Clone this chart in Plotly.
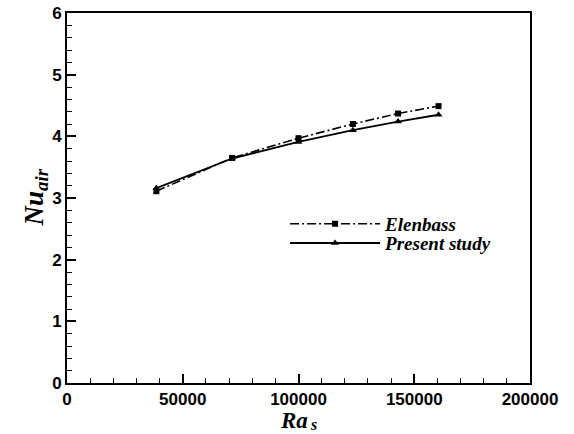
import plotly.graph_objects as go

ra_elenbass = [38600, 71300, 100000, 123500, 143000, 160500]
nu_elenbass = [3.11, 3.65, 3.97, 4.20, 4.37, 4.49]
ra_present = [38600, 71300, 100000, 123500, 143000, 160500]
nu_present = [3.16, 3.64, 3.91, 4.10, 4.24, 4.35]
x_ticks = [0, 50000, 100000, 150000, 200000]
y_ticks = [0, 1, 2, 3, 4, 5, 6]

serif = "Liberation Serif, Times New Roman"
fig = go.Figure()
fig.add_trace(go.Scatter(x=ra_elenbass, y=nu_elenbass, mode="lines+markers", name="<b><i>Elenbass</i></b>",
                         line=dict(color="black", width=1.6, dash="9px,3px,2px,3px"),
                         marker=dict(symbol="square", size=6, color="black"), legend="legend"))
fig.add_trace(go.Scatter(x=ra_present, y=nu_present, mode="lines+markers", name="<b><i>Present study</i></b>",
                         line=dict(color="black", width=1.8),
                         marker=dict(symbol="triangle-up", size=7, color="black"), legend="legend2"))

tickfont = dict(family="Liberation Sans, Arial", size=17, color="black")
legfont = dict(family=serif, size=19, color="black")
fig.update_layout(
    width=574, height=434,
    margin=dict(l=67, r=44, t=13, b=51),
    paper_bgcolor="white", plot_bgcolor="white",
    showlegend=True,
    legend=dict(x=0.471, y=0.43, xanchor="left", yanchor="middle", bgcolor="rgba(0,0,0,0)",
                font=legfont, itemwidth=90),
    legend2=dict(x=0.471, y=0.378, xanchor="left", yanchor="middle", bgcolor="rgba(0,0,0,0)",
                 font=legfont, itemwidth=90),
    xaxis=dict(range=[0, 200000], tickvals=x_ticks,
               ticktext=["<b>%d</b>" % v for v in x_ticks],
               showgrid=False, zeroline=False, showline=True, linecolor="black", linewidth=2,
               mirror=True, ticks="inside", ticklen=9, tickwidth=2, tickcolor="black",
               minor=dict(dtick=10000, ticks="inside", ticklen=5, tickwidth=1, tickcolor="black"),
               tickfont=tickfont, ticklabelstandoff=0, automargin=False),
    yaxis=dict(range=[0, 6], tickvals=y_ticks, ticktext=["<b>%d</b>" % v for v in y_ticks],
               showgrid=False, zeroline=False, showline=True,
               linecolor="black", linewidth=2, mirror=True, ticks="inside", ticklen=9,
               tickwidth=2, tickcolor="black",
               minor=dict(dtick=0.2, ticks="inside", ticklen=5, tickwidth=1, tickcolor="black"),
               tickfont=tickfont, automargin=False),
    annotations=[
        dict(text="<b><i>Ra</i></b>", xref="paper", yref="paper", x=0.49, y=-0.066,
             xanchor="center", yanchor="top", showarrow=False, borderpad=0,
             font=dict(family=serif, size=23, color="black")),
        dict(text="<b><i>s</i></b>", xref="paper", yref="paper", x=0.522, y=-0.137,
             xanchor="left", yanchor="bottom", showarrow=False, borderpad=0,
             font=dict(family=serif, size=16, color="black")),
        dict(text="<b><i>Nu<sub>air</sub></i></b>", xref="paper", yref="paper", x=-0.068, y=0.5,
             xanchor="center", yanchor="middle", showarrow=False, textangle=-90,
             font=dict(family=serif, size=27, color="black")),
    ],
)
fig.write_html("out.html")
